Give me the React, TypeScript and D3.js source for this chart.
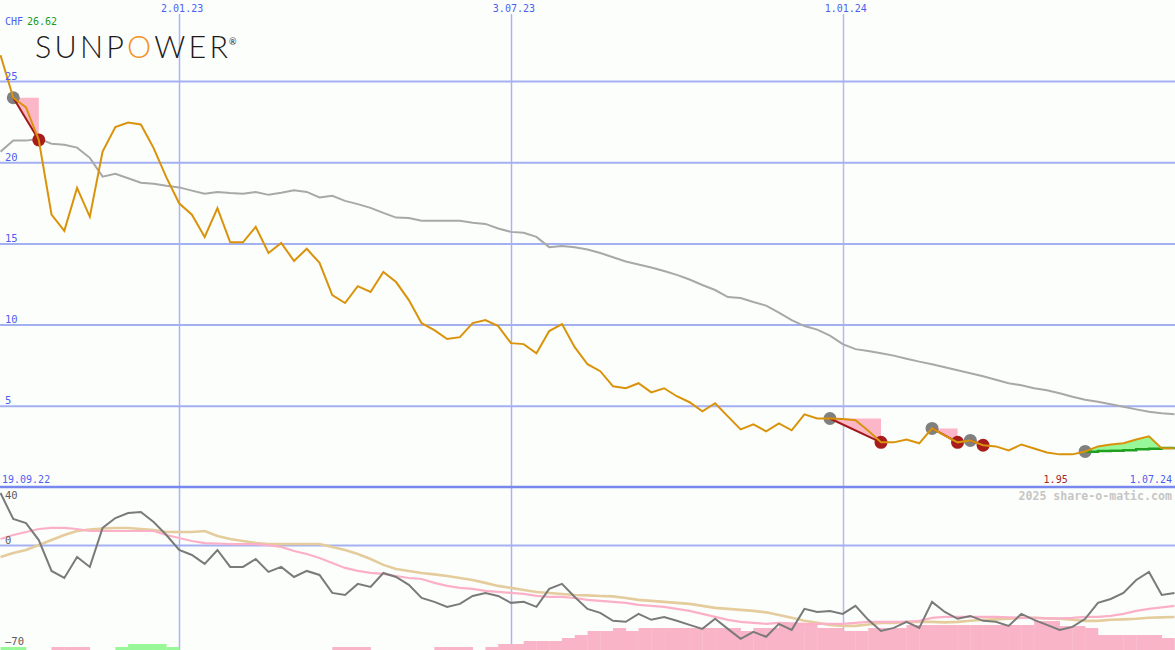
import React from "react";
import * as d3 from "d3";

const W = 1175;
const H = 650;

const START_DATE = new Date(2022, 8, 26);
const END_DATE = new Date(2024, 6, 1);

const price = [
  26.62, 24.0, 23.4, 21.4, 16.8, 15.8, 18.45, 16.67, 20.68, 22.2,
  22.47, 22.35, 20.9, 19.1, 17.5, 16.8, 15.43, 17.2, 15.1, 15.1,
  16.05, 14.44, 15.06, 13.95, 14.7, 13.83, 11.85, 11.36, 12.4, 12.04,
  13.27, 12.65, 11.54, 10.12, 9.69, 9.14, 9.26, 10.12, 10.31, 9.94,
  8.89, 8.83, 8.27, 9.63, 10.06, 8.64, 7.59, 7.16, 6.23, 6.11,
  6.42, 5.86, 6.11, 5.62, 5.25, 4.69, 5.19, 4.38, 3.58, 3.89,
  3.46, 3.95, 3.52, 4.5, 4.25, 4.25, 4.22, 4.14, 3.5, 2.78,
  2.78, 2.96, 2.72, 3.64, 3.2, 2.78, 2.9, 2.6, 2.53, 2.28,
  2.65, 2.4, 2.16, 2.04, 2.04, 2.22, 2.53, 2.65, 2.72, 2.96,
  3.15, 2.41, 2.41,
];

const avgLine = [
  20.68, 21.36, 21.36, 21.48, 21.17, 21.1, 20.93, 20.3, 19.14, 19.32,
  19.04, 18.77, 18.7, 18.58, 18.48, 18.28, 18.09, 18.2, 18.13, 18.09,
  18.2, 18.02, 18.15, 18.3, 18.2, 17.86, 17.96, 17.65, 17.45, 17.22,
  16.91, 16.62, 16.6, 16.42, 16.42, 16.42, 16.42, 16.3, 16.23, 15.95,
  15.74, 15.68, 15.43, 14.8, 14.87, 14.8, 14.66, 14.44, 14.18, 13.92,
  13.73, 13.55, 13.33, 13.09, 12.81, 12.47, 12.16, 11.73, 11.67, 11.42,
  11.2, 10.77, 10.31, 9.94, 9.72, 9.35, 8.83, 8.52, 8.4, 8.27,
  8.12, 7.93, 7.75, 7.59, 7.4, 7.22, 7.04, 6.85, 6.64, 6.42,
  6.3, 6.11, 5.99, 5.8, 5.59, 5.4, 5.28, 5.12, 4.97, 4.81,
  4.66, 4.57, 4.51,
];

const momentum = [
  36.5, 18.4, 15.6, 3.8, -17.7, -22.6, -8.0, -14.9, 12.2, 19.1,
  22.6, 23.3, 16.3, 7.3, -3.1, -6.6, -12.8, -3.1, -14.9, -14.9,
  -9.4, -18.4, -14.9, -21.9, -17.7, -20.5, -33, -34.4, -26.7, -28.8,
  -19.1, -21.9, -27.4, -36.5, -39.2, -42.7, -40.6, -35.1, -33, -35.1,
  -39.9, -39.2, -42.7, -30.2, -26.7, -35.8, -44.1, -46.9, -52.4, -53.1,
  -47.6, -51.7, -49.7, -52.4, -55.2, -58, -51, -58, -64.9, -60.1,
  -63.5, -54.5, -58.7, -44.1, -46.2, -45.5, -47.6, -42, -51.7, -59.4,
  -57.3, -53.1, -57.3, -39.2, -46.2, -51, -49, -52.4, -53.1, -55.9,
  -47.6, -51.7, -55.2, -58.7, -56.6, -51, -39.9, -37.2, -33, -24,
  -18.4, -34.4, -33,
];

const pinkOsc = [
  4.5, 7.3, 9.4, 11.5, 12.2, 12.2, 11.5, 10.1, 10.1, 10.1,
  10.1, 10.1, 10.1, 7.3, 5.2, 3.1, 1.7, 1.4, 1.0, 1.0,
  1.0, 0.3, -1.0, -3.8, -5.9, -8.7, -12.2, -15.6, -17.7, -19.1,
  -19.8, -21.2, -22.6, -23.3, -26.0, -28.1, -29.5, -30.2, -31.6, -32.3,
  -33.0, -33.7, -35.1, -35.8, -35.8, -36.5, -37.8, -38.5, -39.2, -39.9,
  -41.3, -42.0, -42.7, -44.1, -45.5, -47.6, -49.7, -51.7, -53.1, -53.8,
  -54.5, -53.8, -54.2, -54.5, -54.5, -54.5, -54.5, -53.8, -53.1, -53.1,
  -53.1, -53.1, -52.4, -50.3, -49.7, -49.7, -49.7, -49.7, -49.7, -50.0,
  -50.3, -50.3, -50.7, -50.7, -50.3, -49.7, -49.7, -49.0, -47.6, -45.5,
  -44.1, -43.1, -42.0,
];

const tanOsc = [
  -8.0, -5.2, -3.1, 0.3, 3.8, 7.3, 10.1, 11.1, 11.8, 12.2,
  12.2, 11.5, 10.8, 9.4, 9.4, 9.4, 10.1, 6.6, 4.5, 3.1,
  1.7, 1.0, 1.0, 1.0, 1.0, 1.0, -1.0, -3.1, -5.9, -9.4,
  -13.5, -16.3, -17.7, -19.1, -20.1, -21.2, -22.6, -24.0, -26.0, -28.1,
  -29.5, -30.9, -32.3, -33.0, -33.7, -34.4, -34.7, -35.1, -35.4, -36.5,
  -37.8, -38.5, -39.2, -39.9, -40.6, -42.0, -43.4, -44.1, -44.8, -45.5,
  -46.5, -48.3, -50.3, -52.4, -53.8, -55.2, -55.9, -55.9, -54.9, -53.8,
  -53.8, -53.1, -53.1, -53.1, -53.5, -53.1, -52.4, -51.7, -51.4, -51.0,
  -50.3, -50.3, -50.7, -51.0, -51.7, -52.4, -52.4, -51.7, -51.4, -51.0,
  -50.3, -50.0, -49.7,
];

const histBars = [
  3, 3, 0, 0, -3, -3, -3, 0, 0, 3,
  6, 6, 6, 3, 0, 0, 0, 0, 0, 0,
  0, 0, 0, 0, 0, 0, -3, -3, -3, 0,
  0, 0, 0, 0, -3, -3, -3, 0, -3, -6,
  -6, -9, -9, -9, -12, -15, -19, -19, -22, -19,
  -22, -22, -22, -22, -22, -22, -22, -22, -19, -22,
  -22, -26, -26, -26, -22, -22, -19, -19, -22, -22,
  -22, -25, -25, -25, -25, -25, -25, -25, -25, -25,
  -25, -29, -29, -24, -24, -22, -15, -15, -15, -15,
  -15, -12, 0,
];

// sell signals: [start index, end index]
const sellSignals = [
  [1, 3],
  [65, 69],
  [73, 75],
  [76, 77],
];
// buy signal start index and its trailing line values
const buyStart = 85;
const buyLine = [2.2, 2.24, 2.27, 2.3, 2.35, 2.38, 2.43, 2.47];

const priceTicks = [5, 10, 15, 20, 25];
const oscTicks = [40, 0, -70];
const gridDates = [new Date(2023, 0, 2), new Date(2023, 6, 3), new Date(2024, 0, 1)];
const gridLabels = ["2.01.23", "3.07.23", "1.01.24"];
const startLabel = "19.09.22";
const endLabel = "1.07.24";
const currency = "CHF";
const firstPriceLabel = "26.62";
const lowLabel = "1.95";
const lowIndex = 83;
const copyright = "2025 share-o-matic.com";

const dates = price.map((_, i) => d3.timeDay.offset(START_DATE, 7 * i));

const MONO = "'DejaVu Sans Mono', 'Liberation Mono', monospace";

export default function App() {
  const x = d3.scaleTime().domain([START_DATE, END_DATE]).range([0.5, 1174.5]);
  const y = d3.scaleLinear().domain([0, 25]).range([487.5, 81.5]);
  const y2 = d3.scaleLinear().domain([0, 40]).range([545.5, 488]);
  const barH = d3.scaleLinear().domain([0, 30]).range([0, 30]);

  const lineMain = d3
    .line<number>()
    .x((_, i) => x(dates[i]))
    .y((d) => y(d));
  const lineLow = d3
    .line<number>()
    .x((_, i) => x(dates[i]))
    .y((d) => y2(d));

  const step = x(dates[1]) - x(dates[0]);

  const buyIdx = buyLine.map((_, k) => buyStart + k);
  const greenArea = d3
    .area<number>()
    .x((i) => x(dates[i]))
    .y0((i) => y(buyLine[i - buyStart]))
    .y1((i) => y(price[i]));
  const greenLine = d3
    .line<number>()
    .x((i) => x(dates[i]))
    .y((i) => y(buyLine[i - buyStart]))
    .curve(d3.curveStepAfter);

  const hLineColor = "#a3b0f2";
  const axisBlue = "#4d5ff0";

  return (
    <svg
      width={W}
      height={H}
      style={{ position: "absolute", left: 0, top: 0, display: "block", background: "#fcfefc" }}
    >
      <defs>
        <clipPath id="mainClip">
          <rect x={0} y={0} width={W} height={487} />
        </clipPath>
        <clipPath id="lowClip">
          <rect x={0} y={488} width={W} height={162} />
        </clipPath>
      </defs>
      <rect x={0} y={0} width={W} height={H} fill="#fcfefc" />

      {/* vertical gridlines */}
      {gridDates.map((d, k) => (
        <line
          key={"vg" + k}
          x1={Math.round(x(d)) + 0.5}
          x2={Math.round(x(d)) + 0.5}
          y1={14}
          y2={H}
          stroke={k === 2 ? "#b4bcec" : "#a8b4f4"}
          strokeWidth={1.5}
        />
      ))}
      {/* horizontal price gridlines */}
      {priceTicks.map((t) => (
        <line key={"hg" + t} x1={0} x2={W} y1={y(t)} y2={y(t)} stroke={hLineColor} strokeWidth={2} />
      ))}
      {/* osc zero line */}
      <line x1={0} x2={W} y1={y2(0)} y2={y2(0)} stroke={hLineColor} strokeWidth={2} />

      {/* lower panel bars */}
      <g clipPath="url(#lowClip)">
        {histBars.map((v, i) =>
          v === 0 ? null : (
            <rect
              key={"b" + i}
              x={x(dates[i])}
              width={step + 0.3}
              y={H - barH(Math.abs(v))}
              height={barH(Math.abs(v))}
              fill={v > 0 ? "#98f898" : "#f9b4c8"}
            />
          )
        )}
        <path d={lineLow(tanOsc) || ""} fill="none" stroke="#e4cc9c" strokeWidth={2.6} />
        <path d={lineLow(pinkOsc) || ""} fill="none" stroke="#fcb0c8" strokeWidth={2.2} />
        <path d={lineLow(momentum) || ""} fill="none" stroke="#7a7a7a" strokeWidth={2} />
      </g>

      {/* main panel */}
      <g clipPath="url(#mainClip)">
        <path d={lineMain(avgLine) || ""} fill="none" stroke="#a8a8a8" strokeWidth={2} />
        {sellSignals.map(([a, b], k) => {
          const x1 = x(dates[a]);
          const x2 = x(dates[b]);
          const y1 = y(price[a]);
          const yb = y(price[b]);
          return (
            <polygon key={"tri" + k} points={`${x1},${y1} ${x2},${y1} ${x2},${yb}`} fill="#fbb6c8" />
          );
        })}
        <path d={greenArea(buyIdx) || ""} fill="#98f898" />
        {sellSignals.map(([a, b], k) => (
          <g key={"sc" + k}>
            <circle cx={x(dates[a])} cy={y(price[a])} r={6.5} fill="#808080" />
            <circle cx={x(dates[b])} cy={y(price[b])} r={6.5} fill="#a81c1c" />
          </g>
        ))}
        <circle cx={x(dates[buyStart])} cy={y(price[buyStart])} r={6.5} fill="#808080" />
        {sellSignals.map(([a, b], k) => (
          <line
            key={"sl" + k}
            x1={x(dates[a])}
            y1={y(price[a])}
            x2={x(dates[b])}
            y2={y(price[b])}
            stroke="#a01818"
            strokeWidth={2}
          />
        ))}
        <path d={greenLine(buyIdx) || ""} fill="none" stroke="#22a022" strokeWidth={2.5} />
        <path d={lineMain(price) || ""} fill="none" stroke="#d9930a" strokeWidth={2} />
      </g>

      {/* separator */}
      <line x1={0} x2={W} y1={487} y2={487} stroke="#7888ee" strokeWidth={2.5} />

      {/* price tick labels */}
      {priceTicks.map((t) => (
        <text key={"pt" + t} x={5} y={y(t) - 2} fontFamily={MONO} fontSize={10.5} fill={axisBlue}>
          {t}
        </text>
      ))}
      {/* osc labels */}
      {oscTicks.map((t) => (
        <text
          key={"ot" + t}
          x={5}
          y={t === 40 ? 499 : t === 0 ? y2(0) - 2 : 645}
          fontFamily={MONO}
          fontSize={10.5}
          fill="#5a5a5a"
        >
          {t === -70 ? "\u201370" : t}
        </text>
      ))}
      {/* date labels */}
      {gridDates.map((d, k) => (
        <text
          key={"gl" + k}
          x={x(d) + 3}
          y={12}
          textAnchor="middle"
          fontFamily={MONO}
          fontSize={10}
          fill={axisBlue}
        >
          {gridLabels[k]}
        </text>
      ))}
      <text x={2} y={483} fontFamily={MONO} fontSize={10} fill={axisBlue}>
        {startLabel}
      </text>
      <text x={1172} y={483} textAnchor="end" fontFamily={MONO} fontSize={10} fill={axisBlue}>
        {endLabel}
      </text>
      <text
        x={x(dates[lowIndex]) - 4}
        y={483}
        textAnchor="middle"
        fontFamily={MONO}
        fontSize={10}
        fill="#a02828"
      >
        {lowLabel}
      </text>
      <text
        x={1172}
        y={500}
        textAnchor="end"
        fontFamily={MONO}
        fontSize={11.6}
        fontWeight="bold"
        fill="#c6c6c6"
      >
        {copyright}
      </text>

      {/* header */}
      <text x={5} y={25} fontFamily={MONO} fontSize={10} fill={axisBlue}>
        {currency}
      </text>
      <text x={27} y={25} fontFamily={MONO} fontSize={10} fill="#1a9a1a">
        {firstPriceLabel}
      </text>

      {/* logo */}
      <text
        x={35}
        y={57.5}
        fontFamily="Lato, 'Open Sans', sans-serif"
        fontWeight={300}
        fontSize={30.5}
        fill="#1e1a1a"
        textLength={193}
        lengthAdjust="spacing"
      >
        SUNP<tspan fill="#f39224">O</tspan>WER
      </text>
      <text x={229} y={45} fontFamily="Lato, sans-serif" fontSize={9} fill="#1e1a1a">
        ®
      </text>
    </svg>
  );
}
